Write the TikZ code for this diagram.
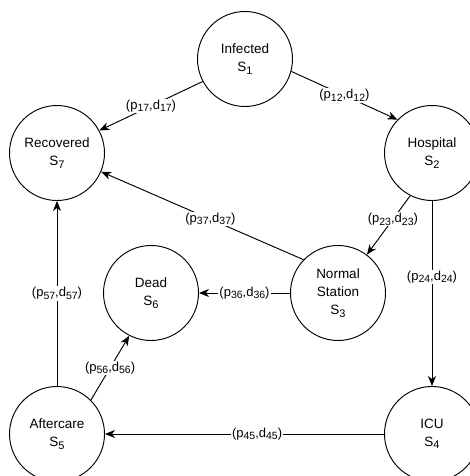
\documentclass[tikz,border=0pt]{standalone}
\usepackage{fontspec}
\setmainfont{Liberation Sans}
\usetikzlibrary{arrows.meta}
\newcommand\nsb[1]{\raisebox{-0.35ex}{\fontsize{11}{11}\selectfont #1}}
\newcommand\lsb[1]{\raisebox{-0.35ex}{\fontsize{10.5}{10.5}\selectfont #1}}
\newcommand\lab[1]{(p\lsb{#1},d\lsb{#1})}
\begin{document}
\begin{tikzpicture}[x=1pt,y=-1pt,
 state/.style={draw, circle, line width=0.95pt, minimum size=95pt, inner sep=0pt, align=center, font=\fontsize{13.5}{18}\selectfont},
 edge/.style={line width=0.95pt, -{Stealth[length=10pt,width=8pt,inset=3pt]}},
 lbl/.style={fill=white, inner sep=1pt, font=\fontsize{13}{14}\selectfont}]
\useasboundingbox (0,0) rectangle (470,476);
\clip (0,0) rectangle (470,476);
\node[state] (inf) at (245,59) {Infected\\S\nsb{1}};
\node[state] (rec) at (57,153) {Recovered\\S\nsb{7}};
\node[state] (hos) at (432,153) {Hospital\\S\nsb{2}};
\node[state] (nor) at (338,293) {Normal\\Station\\S\nsb{3}};
\node[state] (dead) at (151,293) {Dead\\S\nsb{6}};
\node[state] (aft) at (57,434) {Aftercare\\S\nsb{5}};
\node[state] (icu) at (432,434) {ICU\\S\nsb{4}};
\draw[edge] (inf.208) -- node[lbl]{\lab{17}} (rec.28);
\draw[edge] (inf.-15) -- node[lbl]{\lab{12}} (hos.136);
\draw[edge] (hos.243) -- node[lbl,pos=0.4]{\lab{23}} (nor.53);
\draw[edge] (hos.south) -- node[lbl,pos=0.41]{\lab{24}} (icu.north);
\draw[edge] (nor.136) -- node[lbl,pos=0.46]{\lab{37}} (rec.-23);
\draw[edge] (nor.west) -- node[lbl]{\lab{36}} (dead.east);
\draw[edge] (icu.west) -- node[lbl,pos=0.455]{\lab{45}} (aft.east);
\draw[edge] (aft.north) -- node[lbl]{\lab{57}} (rec.south);
\draw[edge] (aft.45) -- node[lbl]{\lab{56}} (dead.-117);
\end{tikzpicture}
\end{document}
